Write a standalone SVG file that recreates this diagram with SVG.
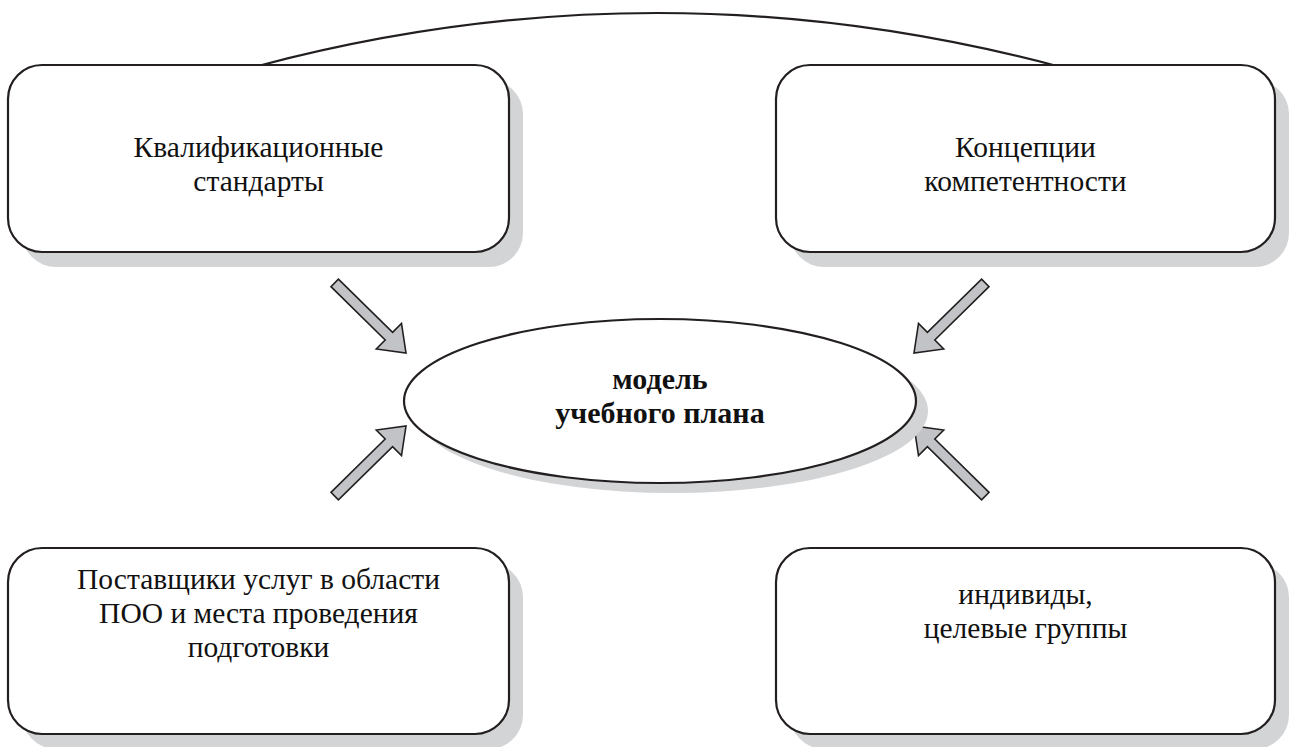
<svg xmlns="http://www.w3.org/2000/svg" width="1290" height="747" viewBox="0 0 1290 747">
  <defs>
    <style>
      .box { fill: #ffffff; stroke: #231f20; stroke-width: 2.2; }
      .shadow { fill: #d3d4d6; stroke: none; }
      .label { font-family: "Liberation Serif", "Times New Roman", serif; font-size: 29.5px; fill: #111111; text-anchor: middle; }
      .bold { font-weight: bold; font-size: 30px; }
      .arrow { fill: #c2c3c6; stroke: #231f20; stroke-width: 1.6; stroke-linejoin: miter; }
      .link { fill: none; stroke: #231f20; stroke-width: 2.2; }
    </style>
    <!-- block arrow pointing along +x, tip at origin -->
    <polygon id="blockArrow" class="arrow" points="-100,-5.3 -24,-5.3 -24,-18 0,0 -24,18 -24,5.3 -100,5.3"/>
  </defs>

  <!-- connectors -->
  <g id="connectors">
    <path class="link" d="M 258 66 Q 657 -40 1057 66"/>
    <use href="#blockArrow" transform="translate(406,353) rotate(44.5)"/>
    <use href="#blockArrow" transform="translate(406,426) rotate(-44.5)"/>
    <use href="#blockArrow" transform="translate(914,353) rotate(135.5)"/>
    <use href="#blockArrow" transform="translate(914,426) rotate(224.5)"/>
  </g>

  <g id="node-qualification">
    <rect class="shadow" x="22" y="80" width="501" height="187" rx="34"/>
    <rect class="box" x="8" y="65" width="501" height="187" rx="34"/>
    <text class="label" x="258.5" y="157">Квалификационные</text>
    <text class="label" x="258.5" y="191">стандарты</text>
  </g>

  <g id="node-competence">
    <rect class="shadow" x="790" y="80" width="499" height="187" rx="34"/>
    <rect class="box" x="776" y="65" width="499" height="187" rx="34"/>
    <text class="label" x="1025.5" y="157">Концепции</text>
    <text class="label" x="1025.5" y="191">компетентности</text>
  </g>

  <g id="node-providers">
    <rect class="shadow" x="22" y="563" width="501" height="186" rx="34"/>
    <rect class="box" x="8" y="548" width="501" height="186" rx="34"/>
    <text class="label" x="258.5" y="589">Поставщики услуг в области</text>
    <text class="label" x="258.5" y="623">ПОО и места проведения</text>
    <text class="label" x="258.5" y="657">подготовки</text>
  </g>

  <g id="node-individuals">
    <rect class="shadow" x="790" y="563" width="499" height="186" rx="34"/>
    <rect class="box" x="776" y="548" width="499" height="186" rx="34"/>
    <text class="label" x="1025.5" y="604">индивиды,</text>
    <text class="label" x="1025.5" y="638">целевые группы</text>
  </g>

  <g id="node-model">
    <ellipse class="shadow" cx="672" cy="411" rx="256" ry="82"/>
    <ellipse class="box" cx="660" cy="401" rx="256" ry="82"/>
    <text class="label bold" x="660" y="389">модель</text>
    <text class="label bold" x="660" y="423">учебного плана</text>
  </g>
</svg>
